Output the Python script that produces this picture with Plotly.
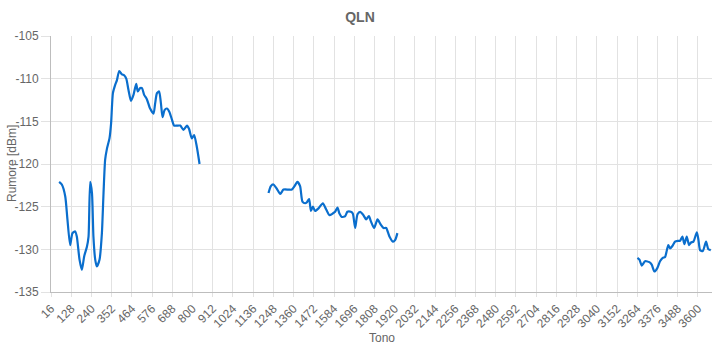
import plotly.graph_objects as go

# Segment 1
tone_a = [61, 76, 95, 107, 122, 135, 150, 159, 174, 187, 200, 215, 224, 233, 243, 251, 261, 270, 285, 298, 307, 316,
          326, 340, 349, 359, 372, 381, 394, 409, 421, 433, 445, 459, 473, 488, 497, 510, 520, 532, 547, 565, 584, 593,
          603, 615, 625, 634, 645, 658, 672, 686, 698, 713, 732, 750, 769, 781, 796, 809, 824, 839]
qln_a = [-122.1, -122.4, -123.8, -126.5, -129.5, -128.1, -127.9, -128.5, -131.2, -132.4, -130.8, -129.7, -128.5, -122.1,
         -123.4, -128.5, -131.2, -132.0, -131.2, -128.1, -123.4, -119.5,
         -118.2, -117.0, -115.2, -111.7, -110.7, -110.2, -109.1, -109.5, -109.6, -110.0, -111.3, -112.6, -111.9, -110.6,
         -111.5, -111.1, -111.1, -111.9, -112.4, -113.5, -114.1, -112.9, -111.7, -111.5, -112.9, -114.5, -113.7, -113.5,
         -113.9, -114.8, -115.5, -115.5, -115.5, -116.0, -115.5, -115.9, -117.0, -116.6, -118.0, -120.0]

# Segment 2
tone_b = [1221, 1234, 1248, 1267, 1286, 1304, 1332, 1350, 1365, 1381, 1396, 1409, 1424, 1433, 1446, 1456, 1467, 1479,
          1498, 1522, 1540, 1559, 1577, 1590, 1603, 1614, 1627, 1646, 1658, 1677, 1688, 1701, 1714, 1729, 1747, 1762,
          1777, 1788, 1806, 1825, 1843, 1858, 1873, 1891, 1910, 1923, 1935]
qln_b = [-123.4, -122.6, -122.4, -122.9, -123.5, -123.0, -123.0, -123.0, -122.6, -122.1, -122.6, -124.4, -124.6, -124.5,
         -124.1, -125.5, -125.0, -125.5, -125.2, -124.6, -125.3, -126.0, -125.8, -125.6, -125.1, -125.8, -126.2, -126.1,
         -125.6, -125.6, -125.8, -127.5, -125.9, -125.6, -126.0, -126.5, -126.1, -126.7, -127.5, -126.5, -127.1, -127.5,
         -127.5, -128.5, -129.1, -128.9, -128.1]

# Segment 3
tone_c = [3265, 3276, 3289, 3307, 3331, 3344, 3359, 3375, 3390, 3405, 3418, 3428, 3436, 3446, 3459, 3473, 3488, 3501,
          3514, 3525, 3538, 3551, 3562, 3575, 3594, 3603, 3612, 3627, 3645, 3658, 3671]
qln_c = [-131.0, -131.2, -131.9, -131.4, -131.5, -131.8, -132.6, -132.2, -131.4, -131.0, -130.9, -130.1, -129.5, -129.9,
         -129.6, -129.1, -129.0, -129.0, -128.5, -129.4, -128.5, -129.5, -129.2, -129.1, -128.0, -128.9, -130.1, -130.2,
         -129.1, -130.0, -130.1]

x_ticks = list(range(16, 3601, 112))
y_ticks = [-135, -130, -125, -120, -115, -110, -105]

x_all = tone_a + [None] + tone_b + [None] + tone_c
y_all = qln_a + [None] + qln_b + [None] + qln_c

fig = go.Figure()
fig.add_trace(go.Scatter(
    x=x_all, y=y_all, mode="lines", connectgaps=False,
    line=dict(color="#0a6ecd", width=2.2, shape="spline", smoothing=0.6),
    hoverinfo="skip", showlegend=False,
))

font_family = "Liberation Sans, Arial, sans-serif"
grey = "#666666"
fig.update_layout(
    width=720, height=350,
    margin=dict(l=51, r=8, t=36, b=58, autoexpand=False),
    paper_bgcolor="white", plot_bgcolor="white",
    font=dict(family=font_family, size=12, color=grey),
    title=dict(text="<b>QLN</b>", x=0.5, xanchor="center", y=0.952, yanchor="middle",
               font=dict(size=14, color=grey, family=font_family)),
    xaxis=dict(
        range=[16, 3678], tickmode="array", tickvals=x_ticks, ticktext=[str(t) for t in x_ticks],
        tickangle=-45, showgrid=True, gridcolor="#e2e2e2", gridwidth=1,
        showline=True, linecolor="#bdbdbd", linewidth=1, zeroline=False,
        ticks="outside", ticklen=4, tickcolor="#e2e2e2", automargin=False,
        tickfont=dict(size=12, color=grey),
    ),
    yaxis=dict(
        range=[-135, -105], tickmode="array", tickvals=y_ticks, ticktext=[str(t) for t in y_ticks],
        showgrid=True, gridcolor="#e2e2e2", gridwidth=1,
        showline=True, linecolor="#bdbdbd", linewidth=1, zeroline=False,
        ticks="outside", ticklen=9, tickcolor="#e2e2e2", automargin=False,
        tickfont=dict(size=12, color=grey),
    ),
    annotations=[
        dict(text="Tono", xref="paper", yref="paper", x=0.5, y=0, yshift=-46,
             xanchor="center", yanchor="middle", showarrow=False, font=dict(size=12, color=grey)),
        dict(text="Rumore [dBm]", xref="paper", yref="paper", x=0, y=0.5, xshift=-39,
             xanchor="center", yanchor="middle", textangle=-90, showarrow=False, font=dict(size=12, color=grey)),
    ],
)

fig.write_html("out.html", config={"displayModeBar": False, "staticPlot": True},
               post_script="document.body.style.margin='0';document.body.style.overflow='hidden';")
